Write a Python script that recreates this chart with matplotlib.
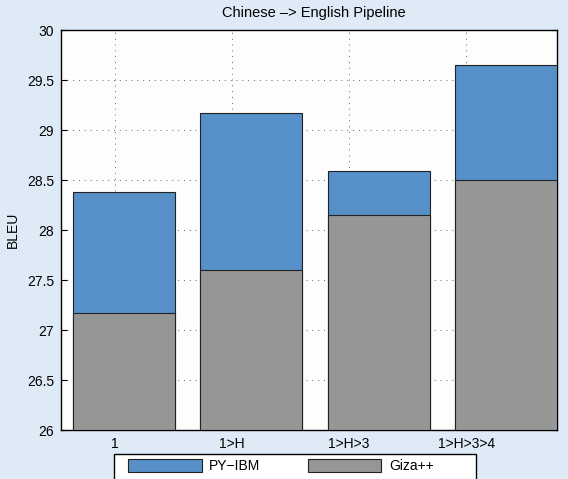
import matplotlib
matplotlib.use("Agg")
import matplotlib.pyplot as plt
from matplotlib.patches import Rectangle
import numpy as np

plt.rcParams['font.family'] = ['Liberation Sans', 'DejaVu Sans']

categories = ["1", "1>H", "1>H>3", "1>H>3>4"]
py_ibm = [28.38, 29.17, 28.59, 29.65]
giza = [27.17, 27.60, 28.15, 28.50]
yticks = [26, 26.5, 27, 27.5, 28, 28.5, 29, 29.5, 30]
yticklabels = ["26", "26.5", "27", "27.5", "28", "28.5", "29", "29.5", "30"]

blue = "#5790c8"
gray = "#969696"
bg = "#deebf7"

fig = plt.figure(figsize=(5.68, 4.79), dpi=100, facecolor=bg)
ax = fig.add_axes([61/568, 49/479, 496/568, 400/479])
ax.set_facecolor("#fdfdfd")

# tick axis
ax.set_xlim(0.542, 4.776)
ax.set_ylim(26, 30)
ax.set_xticks(np.arange(1, len(categories) + 1))
ax.set_xticklabels(categories, fontsize=10)
ax.set_yticks(yticks)
ax.set_yticklabels(yticklabels, fontsize=10)
ax.tick_params(direction='in', top=True, right=True, length=4, width=0.8, pad=5)
ax.grid(True, linestyle=(0, (1, 5)), color="#666666", linewidth=0.7)
ax.set_ylabel("BLEU", fontsize=10, labelpad=5)
ax.set_title("Chinese \u2013> English Pipeline", fontsize=10.5, pad=9.5, x=0.51)
for s in ax.spines.values():
    s.set_linewidth(1.0)
    s.set_color("black")

# bar axis
axb = ax.twiny()
axb.set_xlim(-0.494, 3.40)
axb.set_ylim(26, 30)
axb.set_xticks([])
for s in axb.spines.values():
    s.set_visible(False)
x = np.arange(len(categories))
b1 = axb.bar(x, np.array(py_ibm) - 26, bottom=26, width=0.8, color=blue,
             edgecolor="#222222", linewidth=0.8, label="PY\u2212IBM")
b2 = axb.bar(x, np.array(giza) - 26, bottom=26, width=0.8, color=gray,
             edgecolor="#222222", linewidth=0.8, label="Giza++")

# legend frame (extends below the figure edge, as in the reference)
fig.patches.append(Rectangle((114/568, -0.05), 362/568, 25/479 + 0.05,
                             transform=fig.transFigure, facecolor="white",
                             edgecolor="black", linewidth=1.0, zorder=1))
leg = fig.legend(handles=[b1, b2], labels=["PY\u2212IBM", "Giza++"],
                 loc='upper left', bbox_to_anchor=(128/568, 20/479),
                 ncol=2, fontsize=10, frameon=False,
                 handlelength=5.3, handleheight=1.1, borderaxespad=0,
                 borderpad=0, handletextpad=0.55, columnspacing=3.4)

fig.savefig("out.png", dpi=100, facecolor=bg)
